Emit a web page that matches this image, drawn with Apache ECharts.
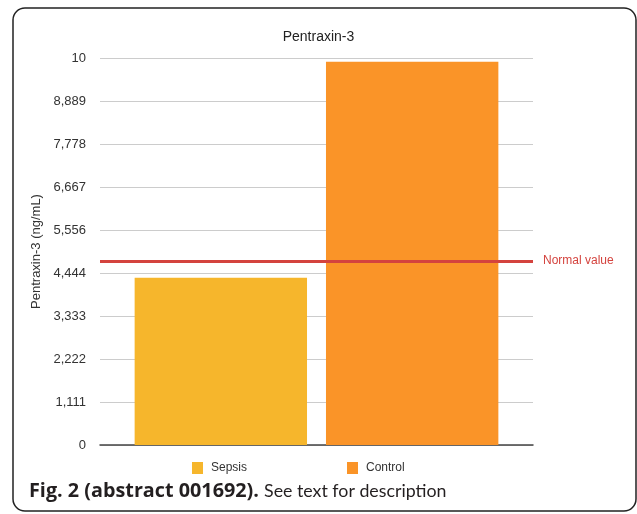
<!DOCTYPE html>
<html>
<head>
<meta charset="utf-8">
<script src="https://cdn.jsdelivr.net/npm/echarts@6/dist/echarts.min.js"></script>
<style>
html,body{margin:0;padding:0;background:#fff;}
#chart{width:637px;height:514px;}
</style>
</head>
<body>
<div id="chart"></div>
<script>
const categories = [''];
const seriesNames = ['Sepsis', 'Control'];
const sepsisValues = [4.32];
const controlValues = [9.9];
const normalValue = 4.75;
const tickLabels = ['0', '1,111', '2,222', '3,333', '4,444', '5,556', '6,667', '7,778', '8,889', '10'];
const yMax = 10;
const yInterval = 10 / 9;

const FONT = 'Arial, "Liberation Sans", Helvetica, sans-serif';
const chart = echarts.init(document.getElementById('chart'), null, {renderer: 'canvas'});
const option = {
  backgroundColor: '#fff',
  animation: false,
  title: {
    text: 'Pentraxin-3',
    left: 'center',
    top: 25,
    textStyle: {fontFamily: FONT, fontSize: 14, fontWeight: 'normal', color: '#222'}
  },
  legend: {
    data: seriesNames,
    icon: 'rect',
    left: 187,
    top: 457,
    itemWidth: 11,
    itemHeight: 12,
    itemGap: 100,
    textStyle: {fontFamily: FONT, fontSize: 12, color: '#333', padding: [0, 0, 0, 3]}
  },
  grid: {left: 100, right: 104, top: 58, bottom: 69},
  xAxis: {
    type: 'category',
    data: categories,
    axisTick: {show: false},
    axisLabel: {show: false},
    axisLine: {lineStyle: {color: '#444', width: 1.5}}
  },
  yAxis: {
    type: 'value',
    min: 0,
    max: yMax,
    interval: yInterval,
    name: 'Pentraxin-3 (ng/mL)',
    nameLocation: 'middle',
    nameGap: 55,
    nameTextStyle: {fontFamily: FONT, fontSize: 13, color: '#333'},
    axisLine: {show: false},
    axisTick: {show: false},
    axisLabel: {
      fontFamily: FONT, fontSize: 13, color: '#333', margin: 14,
      formatter: function (v) { return tickLabels[Math.round(v / yInterval)]; }
    },
    splitLine: {lineStyle: {color: '#cccccc', width: 1}}
  },
  series: [
    {
      name: seriesNames[0],
      type: 'bar',
      data: sepsisValues,
      barGap: '11%',
      barCategoryGap: '16%',
      itemStyle: {color: '#F6B62C'},
      markLine: {
        silent: true,
        symbol: 'none',
        data: [{yAxis: normalValue}],
        lineStyle: {color: '#D4433E', width: 3, type: 'solid'},
        label: {
          position: 'end',
          distance: 10,
          formatter: 'Normal value',
          fontFamily: FONT,
          fontSize: 12,
          color: '#D4433E'
        }
      },
      z: 2
    },
    {
      name: seriesNames[1],
      type: 'bar',
      data: controlValues,
      itemStyle: {color: '#FA9428'},
      z: 1
    }
  ],
  graphic: [
    {
      type: 'rect',
      shape: {x: 13, y: 8, width: 623, height: 503, r: 12},
      style: {fill: 'none', stroke: '#222', lineWidth: 1.5},
      silent: true
    },
    {
      type: 'text',
      left: 29,
      top: 481,
      style: {
        text: '{b|Fig. 2 (abstract 001692).} {n|See text for description}',
        rich: {
          b: {fontFamily: 'Open Sans', fontSize: 19.8, fontWeight: 'bold', fill: '#231f20'},
          n: {fontFamily: 'Lato', fontSize: 17.8, fontWeight: 'normal', fill: '#231f20'}
        },
        fontFamily: 'Open Sans',
        fontSize: 19.8
      }
    }
  ]
};
chart.setOption(option);
</script>
</body>
</html>
